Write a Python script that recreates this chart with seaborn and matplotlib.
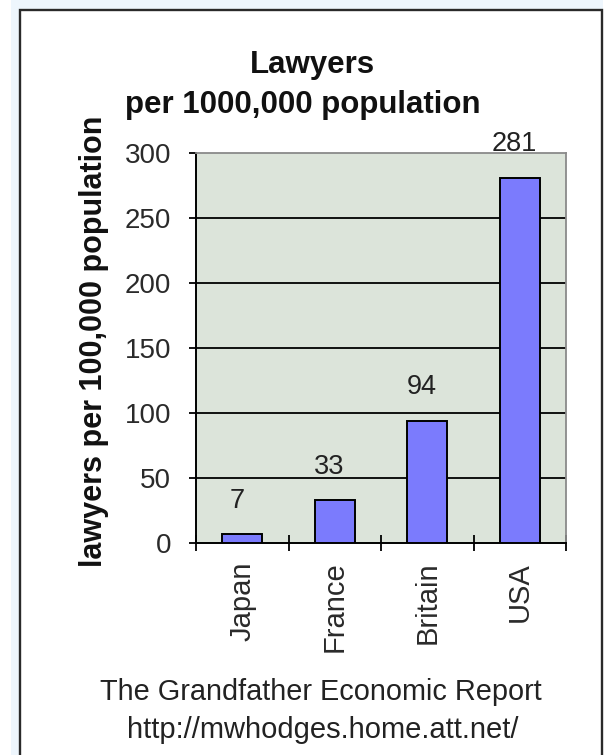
import matplotlib
matplotlib.use("Agg")
import matplotlib.pyplot as plt
from matplotlib.patches import Rectangle
from matplotlib.ticker import FixedLocator
import seaborn as sns
import pandas as pd

# chart data
countries = ["Japan", "France", "Britain", "USA"]
lawyers = [7, 33, 94, 281]
y_ticks = [0, 50, 100, 150, 200, 250, 300]
grid_levels = [50, 100, 150, 200, 250]

title_line1 = "Lawyers"
title_line2 = "per 1000,000 population"
y_label = "lawyers per 100,000 population"
footer_line1 = "The Grandfather Economic Report"
footer_line2 = "http://mwhodges.home.att.net/"

sns.set_style("white")
plt.rcParams['font.family'] = ['Liberation Sans', 'DejaVu Sans']

W, H = 605, 755
fig = plt.figure(figsize=(W / 100, H / 100), dpi=100, facecolor='white')

# page background and framed panel (kept under the axes)
fig.patches.append(Rectangle((11 / W, 0), (603 - 11) / W, 1, transform=fig.transFigure,
                             facecolor='#eef6fd', edgecolor='none', zorder=-3))
fig.patches.append(Rectangle((20 / W, -0.05), (602 - 20) / W, 1.05 - 10 / H,
                             transform=fig.transFigure, facecolor='white',
                             edgecolor='#2a2a2a', linewidth=1.7, zorder=-2))

ax = fig.add_axes([196 / W, 1 - 543 / H, 370 / W, 390 / H])
ax.set_facecolor('#dce4da')

df = pd.DataFrame({'country': countries, 'lawyers': lawyers})
for lvl in grid_levels:
    ax.axhline(lvl, color='black', linewidth=1.3, zorder=1)

sns.barplot(data=df, x='country', y='lawyers', color='#7b7bfd', saturation=1,
            edgecolor='black', linewidth=1.4, width=0.43, ax=ax, zorder=3)

for i, v in enumerate(lawyers):
    ax.annotate(str(v), (i, v), xytext=(-4, 19), textcoords='offset points',
                ha='center', va='baseline', fontsize=19.5, color='#222222')

ax.set_xlim(-0.5, len(countries) - 0.5)
ax.set_ylim(0, 300)
ax.set_yticks(y_ticks)
ax.set_yticklabels([str(t) for t in y_ticks], fontsize=20, color='#2a2a2a')
ax.tick_params(axis='y', direction='out', length=5, width=1.3, color='black', pad=13, left=True)

ax.set_xticks(range(len(countries)))
ax.set_xticklabels(countries, rotation=90, fontsize=21, color='#2a2a2a', va='top')
ax.tick_params(axis='x', which='major', length=0, pad=13.5)
ax.xaxis.set_minor_locator(FixedLocator([i - 0.5 for i in range(len(countries) + 1)]))
ax.tick_params(axis='x', which='minor', direction='inout', length=11, width=1.3,
               color='black', bottom=True)
ax.set_xlabel('')
ax.set_ylabel('')

for side in ['left', 'bottom']:
    ax.spines[side].set_color('black')
    ax.spines[side].set_linewidth(1.4)
for side in ['top', 'right']:
    ax.spines[side].set_visible(True)
    ax.spines[side].set_color('#8a8a8a')
    ax.spines[side].set_linewidth(1.3)

fig.text(312 / W, 1 - 65 / H, title_line1, ha='center', va='center',
         fontsize=22.5, fontweight='bold', color='#111111')
fig.text(303 / W, 1 - 105 / H, title_line2, ha='center', va='center',
         fontsize=22.5, fontweight='bold', color='#111111')
fig.text(94 / W, 1 - 341 / H, y_label, rotation=90, ha='center', va='center',
         fontsize=22, fontweight='bold', color='#111111')
fig.text(321 / W, 1 - 692 / H, footer_line1, ha='center', va='center',
         fontsize=20.8, color='#222222')
fig.text(323 / W, 1 - 730 / H, footer_line2, ha='center', va='center',
         fontsize=21, color='#222222')

fig.savefig('out.png', dpi=100, facecolor='white')
